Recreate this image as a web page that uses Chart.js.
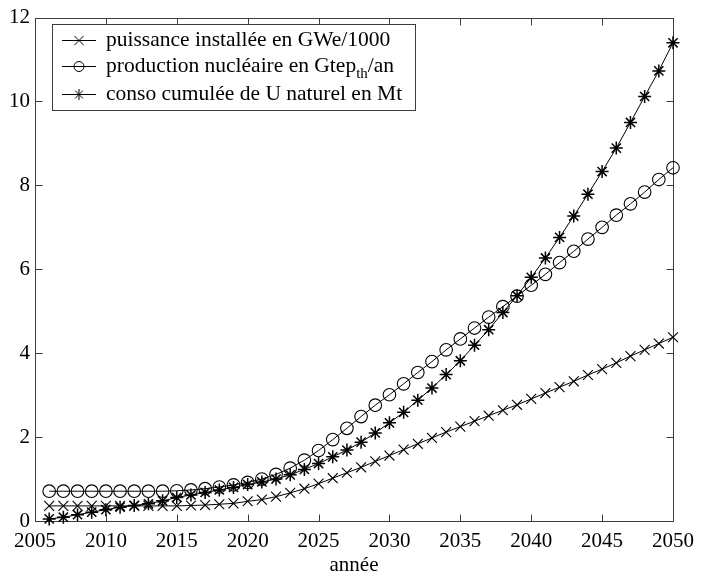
<!DOCTYPE html>
<html>
<head>
<meta charset="utf-8">
<script src="https://cdn.jsdelivr.net/npm/chart.js@4/dist/chart.umd.min.js"></script>
<style>
  html, body { margin: 0; padding: 0; background: #fff; }
  #wrap { width: 702px; height: 573px; }
  .probe { font-family: "Liberation Serif"; position: absolute; left: -9999px; }
</style>
</head>
<body>
<div id="wrap"><canvas id="c" width="702" height="573"></canvas></div>
<span class="probe">année 2050</span>
<script>
// Years on the horizontal axis
const years = [2006, 2007, 2008, 2009, 2010, 2011, 2012, 2013, 2014, 2015,
               2016, 2017, 2018, 2019, 2020, 2021, 2022, 2023, 2024, 2025,
               2026, 2027, 2028, 2029, 2030, 2031, 2032, 2033, 2034, 2035,
               2036, 2037, 2038, 2039, 2040, 2041, 2042, 2043, 2044, 2045,
               2046, 2047, 2048, 2049, 2050];

// Installed capacity, GWe/1000
const puissance = [0.36, 0.36, 0.36, 0.36, 0.36, 0.36, 0.36, 0.36, 0.36, 0.36,
                   0.37, 0.38, 0.40, 0.42, 0.47, 0.51, 0.58, 0.67, 0.77, 0.89,
                   1.02, 1.15, 1.28, 1.42, 1.56, 1.70, 1.84, 1.98, 2.12, 2.25,
                   2.38, 2.51, 2.64, 2.77, 2.91, 3.05, 3.19, 3.33, 3.48, 3.62,
                   3.77, 3.93, 4.08, 4.23, 4.38];

// Nuclear production, Gtep_th per year
const production = [0.71, 0.71, 0.71, 0.71, 0.71, 0.71, 0.71, 0.71, 0.71, 0.72,
                    0.74, 0.77, 0.81, 0.86, 0.92, 1.00, 1.11, 1.26, 1.45, 1.68,
                    1.94, 2.21, 2.49, 2.76, 3.01, 3.27, 3.54, 3.80, 4.08, 4.34,
                    4.60, 4.86, 5.11, 5.36, 5.62, 5.88, 6.16, 6.43, 6.72, 7.00,
                    7.29, 7.56, 7.84, 8.14, 8.42];

// Cumulated natural uranium consumption, Mt
const conso = [0.05, 0.09, 0.15, 0.21, 0.27, 0.33, 0.37, 0.41, 0.48, 0.56,
               0.62, 0.68, 0.74, 0.80, 0.87, 0.93, 1.00, 1.10, 1.23, 1.37,
               1.53, 1.69, 1.88, 2.10, 2.34, 2.59, 2.88, 3.17, 3.49, 3.82,
               4.19, 4.56, 4.97, 5.37, 5.81, 6.27, 6.76, 7.27, 7.79, 8.33,
               8.89, 9.50, 10.12, 10.73, 11.40];

// Legend texts (_{...} marks a subscript)
const seriesLabels = [
  'puissance installée en GWe/1000',
  'production nucléaire en Gtep_{th}/an',
  'conso cumulée de U naturel en Mt'
];

const xTicks = [2005, 2010, 2015, 2020, 2025, 2030, 2035, 2040, 2045, 2050];
const yTicks = [0, 2, 4, 6, 8, 10, 12];
const xTitle = 'année';

const FONT = '"Liberation Serif", "Times New Roman", Times, serif';
const FRAME = '#3c3c3c';

function pts(values) {
  return years.map((yr, i) => ({ x: yr, y: values[i] }));
}

function series(label, values, style, radius, bw) {
  return {
    label: label,
    data: pts(values),
    borderColor: '#000',
    borderWidth: 1,
    backgroundColor: 'transparent',
    pointStyle: style,
    pointRadius: radius,
    pointHoverRadius: radius,
    pointBorderWidth: bw,
    pointBorderColor: '#000',
    pointBackgroundColor: 'transparent',
    tension: 0,
    fill: false,
    clip: false
  };
}

// Box around the plot with inward tick marks on all four sides
const framePlugin = {
  id: 'frame',
  beforeDatasetsDraw(chart) {
    const { ctx, chartArea: a, scales } = chart;
    const L = Math.round(a.left) + 0.5, R = Math.round(a.right) + 0.5;
    const T = Math.round(a.top) + 0.5, B = Math.round(a.bottom) + 0.5;
    const len = 7;
    ctx.save();
    ctx.strokeStyle = FRAME;
    ctx.lineWidth = 1;
    ctx.strokeRect(L, T, R - L, B - T);
    ctx.beginPath();
    scales.x.ticks.forEach(t => {
      const px = Math.round(scales.x.getPixelForValue(t.value)) + 0.5;
      if (px <= L + 1 || px >= R - 1) return;
      ctx.moveTo(px, B); ctx.lineTo(px, B - len);
      ctx.moveTo(px, T); ctx.lineTo(px, T + len);
    });
    scales.y.ticks.forEach(t => {
      const py = Math.round(scales.y.getPixelForValue(t.value)) + 0.5;
      if (py <= T + 1 || py >= B - 1) return;
      ctx.moveTo(L, py); ctx.lineTo(L + len, py);
      ctx.moveTo(R, py); ctx.lineTo(R - len, py);
    });
    ctx.stroke();
    ctx.restore();
  }
};

// Boxed legend in the upper left with subscript support
const boxLegendPlugin = {
  id: 'boxLegend',
  afterDatasetsDraw(chart) {
    const { ctx } = chart;
    const box = { x: 52.5, y: 24.5, w: 363, h: 86 };
    const rows = [40, 66, 94];
    const legendRadius = [6.5, 5, 5.5];
    ctx.save();
    ctx.fillStyle = '#fff';
    ctx.fillRect(box.x, box.y, box.w, box.h);
    ctx.strokeStyle = FRAME;
    ctx.lineWidth = 1;
    ctx.strokeRect(box.x, box.y, box.w, box.h);

    chart.data.datasets.forEach((ds, i) => {
      const y = rows[i];
      ctx.strokeStyle = '#000';
      ctx.fillStyle = 'rgba(0,0,0,0)';
      ctx.lineWidth = 1;
      ctx.beginPath();
      ctx.moveTo(62, y + 0.5);
      ctx.lineTo(96, y + 0.5);
      ctx.stroke();
      Chart.helpers.drawPoint(ctx, {
        pointStyle: ds.pointStyle,
        radius: legendRadius[i],
        borderWidth: ds.pointBorderWidth,
        rotation: 0
      }, 79, y + 0.5);

      // text, split into normal and subscript parts
      let x = 106;
      const parts = ds.label.split(/(_\{[^}]*\})/);
      ctx.fillStyle = '#000';
      ctx.textBaseline = 'middle';
      ctx.textAlign = 'left';
      parts.forEach(p => {
        if (!p) return;
        const sub = p.startsWith('_{');
        const txt = sub ? p.slice(2, -1) : p;
        ctx.font = (sub ? '15px ' : '21.5px ') + FONT;
        ctx.fillText(txt, x, y + (sub ? 8 : 0));
        x += ctx.measureText(txt).width;
      });
    });
    ctx.restore();
  }
};

function draw() {
  new Chart(document.getElementById('c'), {
    type: 'line',
    data: {
      datasets: [
        series(seriesLabels[0], puissance, 'crossRot', 7, 1.1),
        series(seriesLabels[1], production, 'circle', 6.3, 1.1),
        series(seriesLabels[2], conso, 'star', 6.5, 1.5)
      ]
    },
    options: {
      responsive: false,
      animation: false,
      devicePixelRatio: 1,
      layout: { padding: { left: 0, right: 24, top: 15, bottom: 0 } },
      plugins: {
        legend: { display: false },
        tooltip: { enabled: false }
      },
      scales: {
        x: {
          type: 'linear',
          min: 2005,
          max: 2050,
          afterBuildTicks: s => { s.ticks = xTicks.map(v => ({ value: v })); },
          afterFit: s => { s.height = 52; },
          grid: { display: false, drawTicks: false },
          border: { display: false },
          ticks: {
            color: '#000',
            font: { family: FONT, size: 21 },
            padding: 8,
            maxRotation: 0,
            autoSkip: false,
            callback: v => String(v)
          },
          title: {
            display: true,
            text: xTitle,
            color: '#000',
            font: { family: FONT, size: 21, lineHeight: 0.75 },
            padding: { top: 0, bottom: 0 }
          }
        },
        y: {
          type: 'linear',
          min: 0,
          max: 12,
          afterBuildTicks: s => { s.ticks = yTicks.map(v => ({ value: v })); },
          afterFit: s => { s.width = 35; },
          grid: { display: false, drawTicks: false },
          border: { display: false },
          ticks: {
            color: '#000',
            font: { family: FONT, size: 21 },
            padding: 5,
            autoSkip: false,
            callback: v => String(v)
          }
        }
      }
    },
    plugins: [framePlugin, boxLegendPlugin]
  });
}

if (document.fonts && document.fonts.load) {
  document.fonts.load('21px "Liberation Serif"').then(draw, draw);
} else {
  draw();
}
</script>
</body>
</html>
